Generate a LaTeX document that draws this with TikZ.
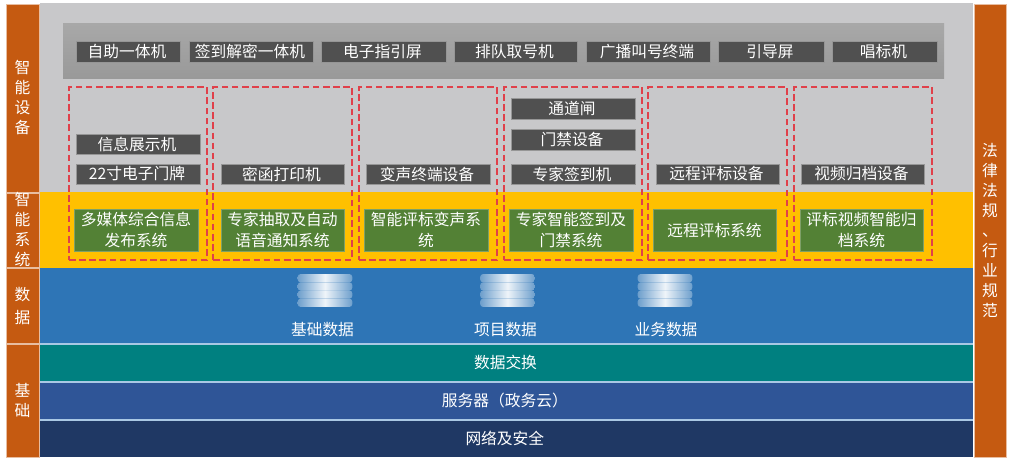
\documentclass[tikz,border=0pt]{standalone}
\usepackage{fontspec}
\setmainfont{Noto Sans CJK SC}
\usetikzlibrary{calc}
\definecolor{barorange}{HTML}{C55A11}
\definecolor{panelgray}{HTML}{C8C8CA}
\definecolor{darkbtn}{HTML}{505050}
\definecolor{greenbox}{HTML}{538135}
\definecolor{amber}{HTML}{FFC000}
\definecolor{bluelayer}{HTML}{2E75B6}
\definecolor{teallayer}{HTML}{008080}
\definecolor{serverblue}{HTML}{2F5597}
\definecolor{netblue}{HTML}{1F3864}
\definecolor{dashred}{HTML}{E0404A}
\definecolor{sepblue}{HTML}{A9C8E4}
\newcommand{\boxat}[7]{%
  \node[#2,minimum width={(#5-#3)*0.75pt},minimum height={(#6-#4)*0.75pt}] (#1) at ({(#3+#5)/2},{(#4+#6)/2}) {#7};}
\tikzset{
  x=0.75pt,y=-0.75pt,
  every node/.style={inner sep=0pt,outer sep=0pt,text=white,font=\fontsize{11.8}{15}\selectfont,align=center},
  sidebar/.style={fill=barorange,draw=white!60!barorange,line width=0.4pt},
  darkbtn/.style={fill=darkbtn,draw=white!40!darkbtn,line width=0.5pt},
  greenbtn/.style={fill=greenbox,draw=white!25!greenbox,line width=0.5pt,font=\fontsize{11.8}{15.8}\selectfont},
  zone/.style={draw=dashred,dashed,dash pattern=on 5pt off 2.6pt,line width=0.85pt},
  band/.style={rounded corners=2.2pt,left color=bluelayer!70!white,right color=bluelayer!70!white,middle color=white!92!bluelayer},
}
\newcommand{\dbicon}[3]{%
  \node[band,minimum width=41pt,minimum height=6.2pt] (#1a) at (#2,#3-12.3) {};
  \node[band,minimum width=41pt,minimum height=6.2pt] (#1b) at (#2,#3-4.1) {};
  \node[band,minimum width=41pt,minimum height=6.2pt] (#1c) at (#2,#3+4.1) {};
  \node[band,minimum width=41pt,minimum height=6.2pt] (#1d) at (#2,#3+12.3) {};}
\begin{document}
\begin{tikzpicture}
\useasboundingbox (0,0) rectangle (1015,465);
\fill[white] (0,0) rectangle (1015,465);
% layers
\boxat{bggray}{fill=panelgray}{40}{3}{973}{192}{}
\boxat{sysband}{fill=amber}{40}{192}{973}{268}{}
\boxat{databand}{fill=bluelayer}{40}{268}{973}{344}{}
\boxat{sepfill}{fill=sepblue}{40}{343}{973}{421}{}
\boxat{xchg}{fill=teallayer}{40}{344.5}{973}{381}{\hspace*{-1.5pt}数据交换}
\boxat{srv}{fill=serverblue}{40}{382.5}{973}{419}{\hspace*{-2.5pt}服务器（政务云）}
\boxat{net}{fill=netblue}{40}{420.5}{973}{457}{\hspace*{-2.5pt}网络及安全}
% side bars
\boxat{sA}{sidebar}{6}{4}{39}{192}{}
\node (sAt) at (22.5,97) {智\\能\\设\\备};
\boxat{sB}{sidebar}{6}{193}{39}{267}{}
\node (sBt) at (22.5,229) {智\\能\\系\\统};
\boxat{sC}{sidebar}{6}{268}{39}{343}{}
\node[font=\fontsize{11.8}{17}\selectfont] (sCt) at (22.5,306) {数\\据};
\boxat{sD}{sidebar}{6}{344}{39}{457}{}
\node (sDt) at (22.5,400) {基\\础};
\boxat{sE}{sidebar}{974}{4}{1006}{457}{}
\node (sEt) at (990,230) {法\\律\\法\\规\\、\\行\\业\\规\\范};
% top panel
\node[minimum width=660.75pt,minimum height=41.25pt,top color=black!34,bottom color=black!40] (panel) at (503.5,50.5) {};
\boxat{t1}{darkbtn}{76}{41}{180}{62}{\hspace*{-1.5pt}自助一体机}
\boxat{t2}{darkbtn}{189}{41}{313}{62}{\hspace*{-1.5pt}签到解密一体机}
\boxat{t3}{darkbtn}{321}{41}{446}{62}{\hspace*{-1.5pt}电子指引屏}
\boxat{t4}{darkbtn}{454}{41}{577}{62}{\hspace*{-1.5pt}排队取号机}
\boxat{t5}{darkbtn}{586}{41}{710}{62}{\hspace*{-1.5pt}广播叫号终端}
\boxat{t6}{darkbtn}{718}{41}{824}{62}{\hspace*{-1.5pt}引导屏}
\boxat{t7}{darkbtn}{832}{41}{937}{62}{\hspace*{-1.5pt}唱标机}
% device boxes
\boxat{d1a}{darkbtn}{76}{134}{200}{154}{\hspace*{-1.5pt}信息展示机}
\boxat{d1b}{darkbtn}{76}{164}{200}{184}{\hspace*{-1.5pt}22寸电子门牌}
\boxat{d2}{darkbtn}{221}{164}{344}{184}{\hspace*{-1.5pt}密函打印机}
\boxat{d3}{darkbtn}{366}{164}{490}{184}{\hspace*{-1.5pt}变声终端设备}
\boxat{d4a}{darkbtn}{511}{98}{635}{119}{\hspace*{-1.5pt}通道闸}
\boxat{d4b}{darkbtn}{511}{129}{635}{150}{\hspace*{-1.5pt}门禁设备}
\boxat{d4c}{darkbtn}{511}{164}{635}{184}{\hspace*{-1.5pt}专家签到机}
\boxat{d5}{darkbtn}{656}{164}{779}{184}{\hspace*{-1.5pt}远程评标设备}
\boxat{d6}{darkbtn}{801}{164}{924}{184}{\hspace*{-1.5pt}视频归档设备}
% system boxes
\boxat{g1}{greenbtn}{74}{209}{198}{251}{多媒体综合信息\\发布系统}
\boxat{g2}{greenbtn}{221}{209}{344}{251}{专家抽取及自动\\语音通知系统}
\boxat{g3}{greenbtn}{364}{209}{488}{251}{智能评标变声系\\统}
\boxat{g4}{greenbtn}{509}{209}{633}{251}{专家智能签到及\\门禁系统}
\boxat{g5}{greenbtn}{653}{209}{776}{251}{远程评标系统}
\boxat{g6}{greenbtn}{800}{209}{923}{251}{评标视频智能归\\档系统}
% dashed zones
\boxat{z1}{zone}{69}{87}{207}{260}{}
\boxat{z2}{zone}{213}{87}{352}{260}{}
\boxat{z3}{zone}{359}{87}{497}{260}{}
\boxat{z4}{zone}{504}{87}{642}{260}{}
\boxat{z5}{zone}{648}{87}{787}{260}{}
\boxat{z6}{zone}{794}{87}{932}{260}{}
% databases
\dbicon{dbA}{325}{290.5}
\dbicon{dbB}{507.5}{290.5}
\dbicon{dbC}{665}{290.5}
\node (lA) at (322.5,330) {基础数据};
\node (lB) at (505.5,330) {项目数据};
\node (lC) at (666,330) {业务数据};
\end{tikzpicture}
\end{document}
